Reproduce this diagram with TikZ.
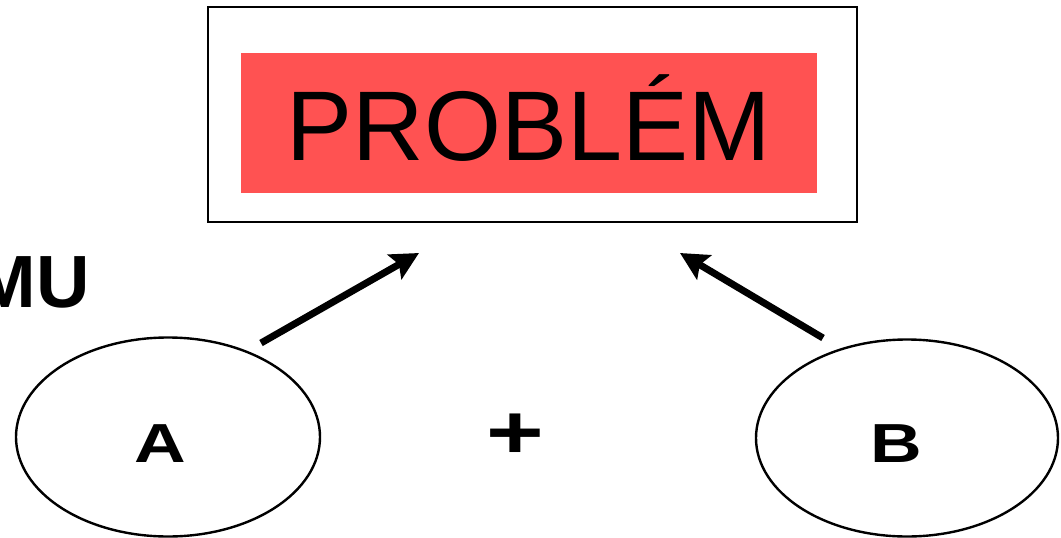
\documentclass[tikz,border=0pt]{standalone}
\usepackage{fontspec}
\setmainfont{Liberation Sans}
\usetikzlibrary{shapes.geometric,arrows.meta}
\definecolor{probred}{RGB}{255,82,82}
\tikzset{
  frame/.style={draw=black,line width=2.6pt,minimum width=649pt,minimum height=215pt,inner sep=0pt},
  redbox/.style={fill=probred,minimum width=576pt,minimum height=140pt,inner sep=0pt},
  oval/.style={ellipse,draw=black,line width=2.4pt,minimum width=304pt,minimum height=199pt,inner sep=0pt},
  letter/.style={font=\fontsize{55pt}{60pt}\selectfont\bfseries,anchor=base,inner sep=0pt,xscale=1.3},
  arrowline/.style={line width=7pt,-{Stealth[length=28pt,width=28pt,inset=5pt]}}
}
\begin{document}
\begin{tikzpicture}[x=1pt,y=-1pt]
\useasboundingbox (0,0) rectangle (1061,538);
\clip (0,0) rectangle (1061,538);
\node[frame] (outer) at (532.5,114.5) {};
\node[redbox] (red) at (529,123) {};
\node[font=\fontsize{99pt}{110pt}\selectfont,anchor=base,inner sep=0pt] (prob) at (529,160) {PROBLÉM};
\node[font=\fontsize{74pt}{80pt}\selectfont\bfseries,anchor=base east,inner sep=0pt] (mu) at (90,307) {MU};
\node[oval] (A) at (168,437) {};
\node[oval,minimum width=302pt,minimum height=197pt] (B) at (907,438) {};
\node[letter] (la) at (160,462) {A};
\node[letter] (lb) at (896,462) {B};
\node[font=\fontsize{76pt}{80pt}\selectfont\bfseries,inner sep=0pt,xscale=1.3] (plus) at (515,436) {+};
\coordinate (a1) at (261,343);
\coordinate (a2) at (419,253);
\coordinate (b1) at (823,338);
\coordinate (b2) at (680,253);
\draw[arrowline] (a1) -- (a2);
\draw[arrowline] (b1) -- (b2);
\end{tikzpicture}
\end{document}
